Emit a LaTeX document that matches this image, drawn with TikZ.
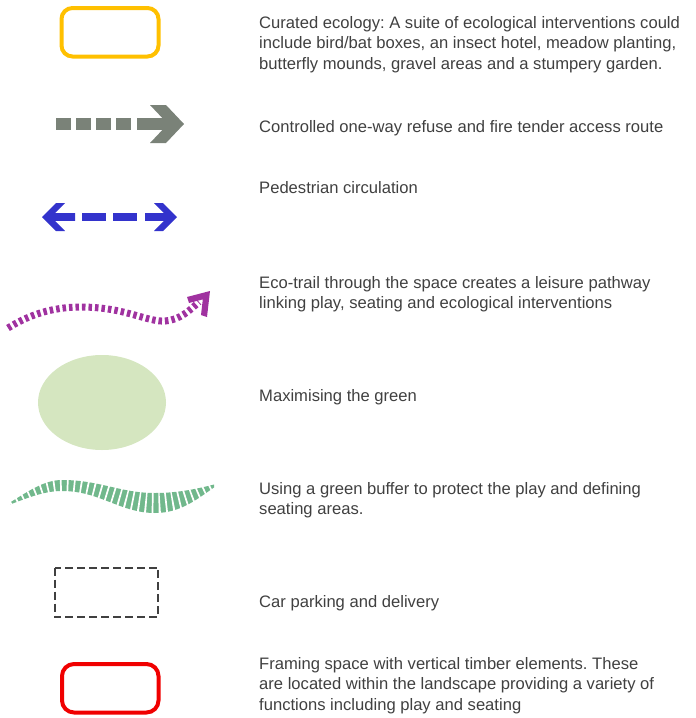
\documentclass[tikz,border=0pt]{standalone}
\usepackage{fontspec}
\setmainfont{Liberation Sans}
\frenchspacing
\definecolor{textgray}{RGB}{64,64,64}
\definecolor{ecoyellow}{RGB}{255,192,0}
\definecolor{arrowgray}{RGB}{122,130,120}
\definecolor{pedblue}{RGB}{51,51,204}
\definecolor{trailpurple}{RGB}{160,50,160}
\definecolor{lightgreen}{RGB}{213,230,192}
\definecolor{buffergreen}{RGB}{113,184,140}
\definecolor{parkgray}{RGB}{64,64,64}
\definecolor{framered}{RGB}{240,0,0}
\begin{document}
\begin{tikzpicture}[x=1pt,y=-1pt,
  txt/.style={anchor=base west, inner sep=0pt, text=textgray,
    font=\fontsize{16.6}{20.5}\selectfont},
  yellowbox/.style={draw=ecoyellow, line width=4pt, rounded corners=11pt},
  redbox/.style={draw=framered, line width=4pt, rounded corners=12pt},
  parkbox/.style={draw=parkgray, line width=2pt, dash pattern=on 8pt off 4pt},
  grayfill/.style={fill=arrowgray},
  bluefill/.style={fill=pedblue},
  trail/.style={draw=trailpurple, line width=7pt, dash pattern=on 3.5pt off 3pt},
]
\useasboundingbox (0,0) rectangle (696,718);

% 1 curated ecology
\draw[yellowbox] (61.5,8) rectangle (158.5,56.5);
\node[txt] (t1a) at (259,28) {Curated ecology: A suite of ecological interventions could};
\node[txt] (t1b) at (259,48.5) {include bird/bat boxes, an insect hotel, meadow planting,};
\node[txt] (t1c) at (259,69) {butterfly mounds, gravel areas and a stumpery garden.};

% 2 refuse route
\foreach \a in {56,76,96,116}{
  \fill[grayfill] (\a,117.5) rectangle ++(14.5,12);
}
\fill[grayfill] (137,117.5) rectangle (170,129.5);
\fill[grayfill] (150,105) -- (166,105) -- (184,124) -- (166,143) -- (150,143) -- (168,124) -- cycle;
\node[txt] (t2) at (259,132) {Controlled one-way refuse and fire tender access route};

% 3 pedestrian
\fill[bluefill] (42,217) -- (56,203) -- (65,203) -- (55,213.2) -- (75,213.2) -- (75,220.8) -- (55,220.8) -- (65,231) -- (56,231) -- cycle;
\fill[bluefill] (177,217) -- (163,203) -- (154,203) -- (164,213.2) -- (145,213.2) -- (145,220.8) -- (164,220.8) -- (154,231) -- (163,231) -- cycle;
\fill[bluefill] (82,213.2) rectangle (106,220.8);
\fill[bluefill] (113,213.2) rectangle (137,220.8);
\node[txt] (t3) at (259,193.5) {Pedestrian circulation};

% 4 eco-trail
\draw[trail] (8,328) .. controls (40,308) and (70,305) .. (100,308)
  .. controls (130,311) and (150,322) .. (165,321)
  .. controls (180,320) and (190,310) .. (199,302);
\fill[trailpurple] (210,291) -- (207,317) -- (201,315) -- (202.8,299.4) -- (189,303) -- (187,297) -- cycle;
\node[txt] (t4a) at (259,288) {Eco-trail through the space creates a leisure pathway};
\node[txt] (t4b) at (259,308.5) {linking play, seating and ecological interventions};

% 5 maximising the green
\fill[lightgreen] (102,402.5) ellipse [x radius=64pt, y radius=47.5pt];
\node[txt] (t5) at (259,401) {Maximising the green};

% 6 green buffer
\fill[buffergreen] (10,502.5) .. controls (30,490) and (45,480) .. (62,480)
  .. controls (100,480) and (120,493) .. (155,493)
  .. controls (180,493) and (200,488) .. (214,484.5)
  -- (214,487.5) .. controls (196,500) and (180,513) .. (155,513)
  .. controls (120,513) and (100,491) .. (62,491)
  .. controls (45,491) and (30,497) .. (10,504.5) -- cycle;
\draw[white, line width=30pt, dash pattern=on 1.7pt off 5pt]
  (10,503.5) .. controls (30,493.5) and (45,485.5) .. (62,485.5)
  .. controls (100,485.5) and (120,503) .. (155,503)
  .. controls (180,503) and (198,494) .. (214,486);
\node[txt] (t6a) at (259,494) {Using a green buffer to protect the play and defining};
\node[txt] (t6b) at (259,514.5) {seating areas.};

% 7 car parking
\draw[parkbox] (54.5,567.5) rectangle (158,617);
\node[txt] (t7) at (259,607) {Car parking and delivery};

% 8 framing space
\draw[redbox] (62,664) rectangle (158.5,712.5);
\node[txt] (t8a) at (259,669) {Framing space with vertical timber elements. These};
\node[txt] (t8b) at (259,689.5) {are located within the landscape providing a variety of};
\node[txt] (t8c) at (259,710) {functions including play and seating};
\end{tikzpicture}
\end{document}
